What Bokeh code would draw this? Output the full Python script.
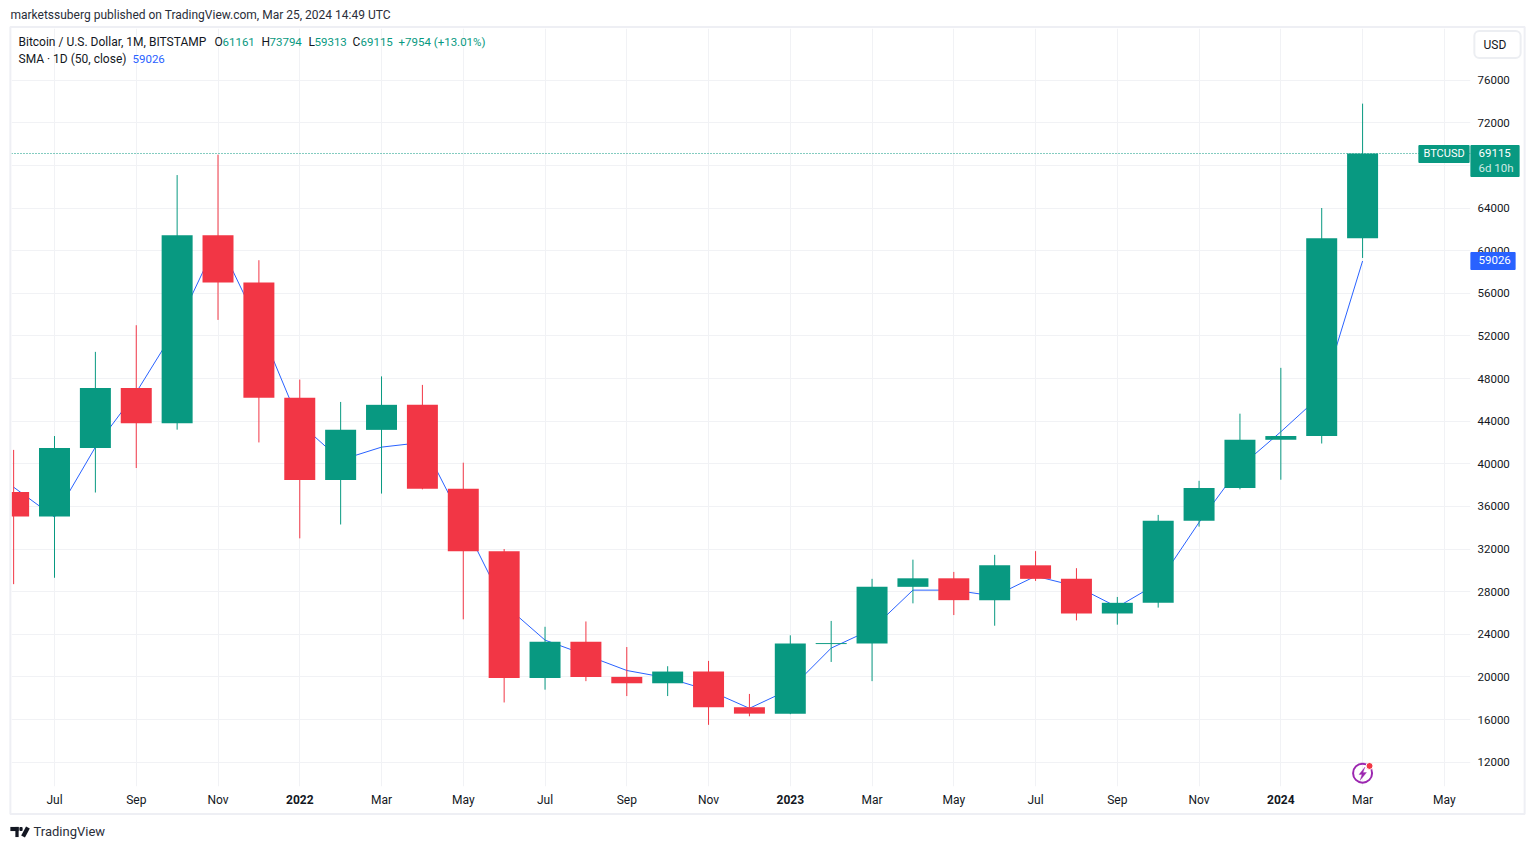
from bokeh.plotting import figure
from bokeh.embed import file_html
from bokeh.resources import INLINE
from bokeh.models import (ColumnDataSource, FixedTicker, Span, Label, PolyAnnotation, Range1d)

FONT = "Roboto"
GREEN = "#089981"
RED = "#f23645"
BLUE = "#2962ff"
TXT = "#131722"
GRID = "#f1f2f5"
FRAME = "#eeeff4"

# month index: 0 = Jul 2021
months = list(range(-1, 33))
opens  = [37340, 35040, 41490, 47100, 43800, 61450, 57000, 46200, 38480, 43180, 45530, 37650, 31800, 19900, 23300, 20000, 19400,
          20500, 17150, 16550, 23080, 23140, 28450, 29250, 27200, 30470, 29200, 25950, 26950, 34650, 37720, 42250, 42600, 61161]
highs  = [41300, 42600, 50500, 53000, 67090, 69000, 59100, 47900, 45800, 48200, 47400, 40100, 32000, 24700, 25200, 22800, 21000,
          21500, 18400, 23900, 25250, 29200, 31000, 29850, 31450, 31800, 30200, 27500, 35200, 38400, 44700, 49000, 64000, 73794]
lows   = [28700, 29300, 37300, 39600, 43200, 53500, 42000, 33000, 34300, 37200, 37600, 25400, 17600, 18800, 19600, 18200, 18200,
          15500, 16300, 16500, 21400, 19600, 26900, 25800, 24800, 29000, 25300, 24900, 26500, 34100, 37600, 38500, 41900, 59313]
closes = [35040, 41490, 47100, 43800, 61450, 57000, 46200, 38480, 43180, 45530, 37650, 31800, 19900, 23300, 20000, 19400, 20500,
          17150, 16550, 23130, 23170, 28450, 29250, 27200, 30470, 29200, 25950, 26950, 34650, 37720, 42250, 42600, 61160, 69115]
sma    = [37800, 35000, 41560, 46700, 52900, 61000, 53000, 43800, 40350, 41560, 42000, 34500, 26800, 23450, 22050, 20600, 19900,
          18750, 17050, 18850, 22700, 24480, 28140, 28140, 27580, 29450, 28500, 26550, 28800, 34500, 39700, 43000, 46500, 59026]

price_ticks = list(range(12000, 80000, 4000))
time_ticks = list(range(0, 36, 2))
time_labels = ["Jul", "Sep", "Nov", "2022", "Mar", "May", "Jul", "Sep", "Nov", "2023", "Mar", "May", "Jul", "Sep", "Nov",
               "2024", "Mar", "May"]

W, H = 1534, 849

p = figure(width=W, height=H, frame_width=1459, frame_height=758, output_backend="svg", toolbar_location=None,
           x_range=Range1d(-1.052, 34.64), y_range=Range1d(9713, 80845),
           min_border_left=11, min_border_right=64, min_border_top=28, min_border_bottom=63,
           y_axis_location="right", background_fill_color="white", border_fill_color="white")
p.outline_line_color = None

p.xaxis.ticker = FixedTicker(ticks=time_ticks)
p.xaxis.major_label_overrides = {t: ("" if l.isdigit() else l) for t, l in zip(time_ticks, time_labels)}
p.yaxis.ticker = FixedTicker(ticks=price_ticks)
for ax in (p.xaxis[0], p.yaxis[0]):
    ax.axis_line_color = None
    ax.major_tick_line_color = None
    ax.minor_tick_line_color = None
    ax.major_label_text_font = FONT
    ax.major_label_text_font_size = "12px"
    ax.major_label_text_color = TXT
p.yaxis.major_label_text_font_size = "11.5px"
p.xaxis.major_label_standoff = 0
p.yaxis.major_label_standoff = 1
p.grid.grid_line_color = GRID
p.grid.grid_line_width = 1

p.add_layout(Span(location=closes[-1], dimension="width", line_color=GREEN, line_dash="1 2", line_width=1, level="underlay"))

p.line(months, sma, line_color=BLUE, line_width=1)

colors = [GREEN if c >= o else RED for o, c in zip(opens, closes)]
src = ColumnDataSource(dict(x=months, o=opens, c=closes, h=highs, l=lows, col=colors))
p.segment("x", "h", "x", "l", source=src, line_color="col", line_width=1)
p.vbar(x="x", top="o", bottom="c", width=0.758, source=src, fill_color="col", line_color=None)

# event marker
p.scatter([32], [10968], size=19, marker="circle", fill_color=None, line_color="#9c27b0", line_width=2)
p.add_layout(PolyAnnotation(xs=[1364.5, 1358.5, 1361.5, 1359.5, 1366, 1362.5],
                            ys=[766.5, 774, 774, 780, 772, 772],
                            xs_units="canvas", ys_units="canvas", fill_color="#9c27b0", fill_alpha=1,
                            line_color="#9c27b0"))
p.scatter([32.17], [11640], size=7, marker="circle", fill_color=RED, line_color="white", line_width=1)

PLACE = "below"

def rect(l, r, t, b, fill=None, line=None, radius=0, lw=1, angle=0):
    w, h = int(r - l), int(b - t)
    p.add_layout(Label(x=(l + r) / 2, y=(t + b) / 2, x_units="canvas", y_units="canvas", text=" ", text_font_size="1px",
                       text_align="center", text_baseline="middle",
                       padding=dict(left=w // 2, right=w - w // 2, top=h // 2, bottom=h - h // 2),
                       background_fill_color=fill, border_line_color=line, border_line_width=lw,
                       border_radius=radius, angle=angle), PLACE)

def txt(s, x, y, color=TXT, size="12px", align="left", style="normal"):
    p.add_layout(Label(x=x, y=y, x_units="canvas", y_units="canvas", text=s, text_color=color,
                       text_font=FONT, text_font_size=size, text_align=align, text_baseline="middle",
                       text_font_style=style), PLACE)

# outer frame
rect(10, 1524, 27, 813, None, FRAME, 0, 2)

# price tags
rect(1418, 1469, 145, 162, GREEN, None, 1)
rect(1470, 1519, 145, 176, GREEN, None, 1)
rect(1470, 1515, 252, 269, BLUE, None, 1)
txt("BTCUSD", 1423, 152.5, "white", "11px")
txt(f"{closes[-1]}", 1478, 152.5, "white", "11.5px")
txt("6d 10h", 1478, 167, "#cfe9e4", "11.5px")
txt(f"{sma[-1]}", 1478, 259.5, "white", "11.5px")
rect(1474, 1520, 31, 57, "white", "#eceef2", 5, 2)
txt("USD", 1483, 44)

# header
txt("marketssuberg published on TradingView.com, Mar 25, 2024 14:49 UTC", 10, 14.5, "#2a2e39")
txt("Bitcoin / U.S. Dollar, 1M, BITSTAMP", 18, 41.5)
for s, x, c, fs in [("O", 214, TXT, "12px"), ("61161", 222, GREEN, "11.5px"), ("H", 261, TXT, "12px"), ("73794", 269, GREEN, "11.5px"),
                    ("L", 308, TXT, "12px"), ("59313", 314, GREEN, "11.5px"), ("C", 352, TXT, "12px"), ("69115", 360, GREEN, "11.5px"),
                    ("+7954 (+13.01%)", 398, GREEN, "11.5px")]:
    txt(s, x, 41.5, c, fs)
txt("SMA · 1D (50, close)", 18, 58.5)
txt("59026", 132, 58.5, BLUE, "11.5px")

# bold year labels
for t, l in zip(time_ticks, time_labels):
    if l.isdigit():
        p.add_layout(Label(x=t, y=799, x_units="data", y_units="canvas", text=l, text_color=TXT, text_font=FONT,
                           text_font_size="12px", text_font_style="bold", text_align="center", text_baseline="middle"), PLACE)

# TradingView logo
rect(10, 18, 827, 830, TXT)
rect(15, 18, 827, 836, TXT)
rect(19, 22, 827, 830, TXT, None, 1)
rect(23, 27, 827, 836, TXT, None, 0, 1, -0.5)
txt("TradingView", 33, 831, "#2a2e39", "13px")

open("out.html", "w").write(file_html(p, INLINE))
